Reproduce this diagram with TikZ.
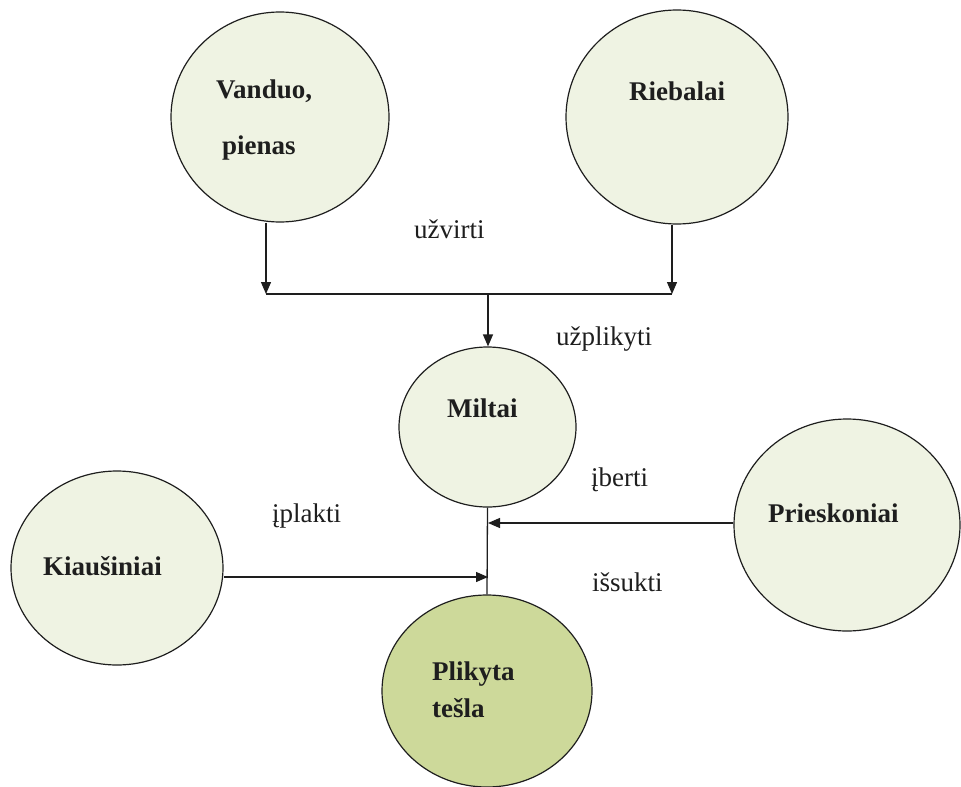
\documentclass[tikz,border=0pt]{standalone}
\usepackage{fontspec}
\setmainfont{Liberation Serif}
\usetikzlibrary{shapes.geometric,arrows.meta}

\definecolor{paleleaf}{RGB}{239,243,227}
\definecolor{doughgreen}{RGB}{205,217,154}
\definecolor{inkline}{RGB}{30,30,30}

\tikzset{
  blob/.style={ellipse, draw=inkline, line width=1.2pt, fill=paleleaf, inner sep=0pt},
  blobdark/.style={blob, fill=doughgreen},
  caption/.style={inner sep=0pt, anchor=base west, font=\fontsize{27}{32}\selectfont, text=inkline},
  bcaption/.style={caption, font=\fontsize{27}{32}\selectfont\bfseries},
  link/.style={draw=inkline, line width=1.3pt},
  arr/.style={link, -{Triangle[length=12pt,width=10pt]}}
}

\begin{document}
\begin{tikzpicture}[x=1pt, y=-1pt]
  \useasboundingbox (0,0) rectangle (961,787);

  % ingredients and product
  \node[blob, minimum width=218pt, minimum height=210pt] (V) at (280,117) {};
  \node[blob, minimum width=222pt, minimum height=214pt] (R) at (677,117) {};
  \node[blob, minimum width=177pt, minimum height=160pt] (M) at (487.5,427) {};
  \node[blob, minimum width=212pt, minimum height=194pt] (K) at (117,568) {};
  \node[blob, minimum width=226pt, minimum height=212pt] (S) at (847,525) {};
  \node[blobdark, minimum width=210pt, minimum height=192pt] (P) at (487,691) {};

  % node texts
  \node[bcaption] (tV1) at (216,98) {Vanduo,};
  \node[bcaption] (tV2) at (222,154) {pienas};
  \node[bcaption] (tR) at (629,100) {Riebalai};
  \node[bcaption] (tM) at (447,417) {Miltai};
  \node[bcaption] (tK) at (43,575) {Kiaušiniai};
  \node[bcaption] (tS) at (768,522) {Prieskoniai};
  \node[bcaption] (tP1) at (432,680) {Plikyta};
  \node[bcaption] (tP2) at (432,717) {tešla};

  % process step labels
  \node[caption] (l1) at (414,238) {užvirti};
  \node[caption] (l2) at (556,345) {užplikyti};
  \node[caption] (l3) at (591,486) {įberti};
  \node[caption] (l4) at (272,522) {įplakti};
  \node[caption] (l5) at (592,591) {išsukti};

  % junction points
  \coordinate (jL) at (266,294);
  \coordinate (jR) at (672,294);
  \coordinate (jM) at (488,294);
  \coordinate (sIn) at (488,523);
  \coordinate (kIn) at (488,577);

  % connectors
  \draw[arr] (V.south -| jL) -- (jL);
  \draw[arr] (R.south -| jR) -- (jR);
  \draw[link] (jL) -- (jR);
  \draw[arr] (jM) -- (jM |- M.north);
  \draw[link] (M.south) -- (P.north);
  \draw[arr] (sIn -| S.west) -- (sIn);
  \draw[arr] (kIn -| K.east) -- (kIn);
\end{tikzpicture}
\end{document}
